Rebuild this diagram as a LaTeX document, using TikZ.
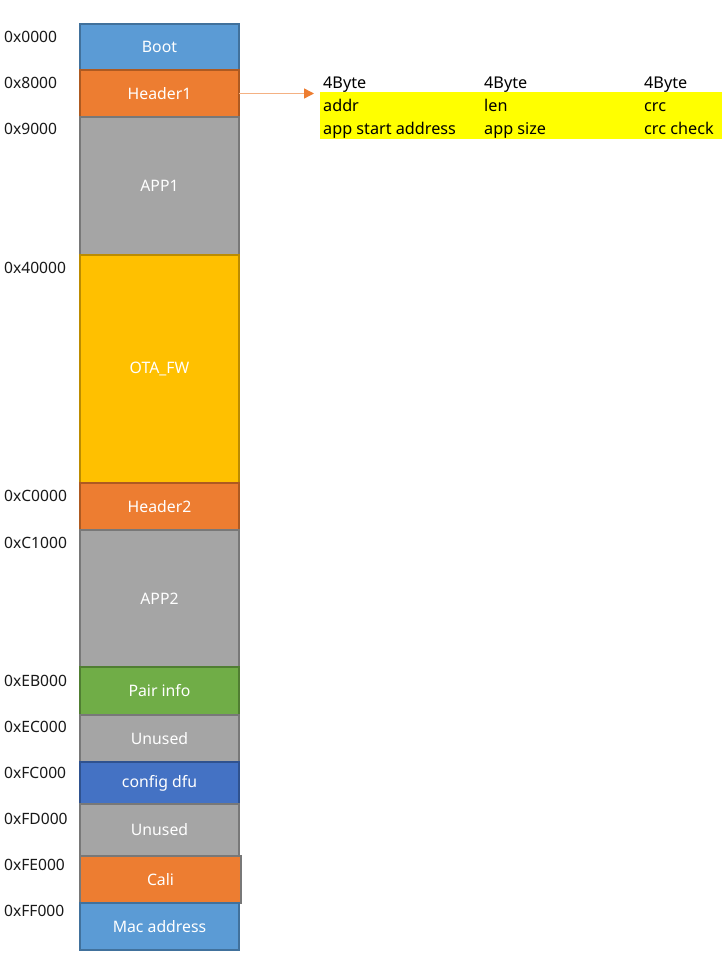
\documentclass[tikz,border=0pt]{standalone}
\usepackage{fontspec}
\setmainfont{Noto Sans}
\usetikzlibrary{arrows.meta}
\definecolor{bootc}{HTML}{5B9BD5}\definecolor{bootd}{HTML}{41719C}
\definecolor{hdrc}{HTML}{ED7D31}\definecolor{hdrd}{HTML}{AE5A21}
\definecolor{grayc}{HTML}{A5A5A5}\definecolor{grayd}{HTML}{787878}
\definecolor{otac}{HTML}{FFC000}\definecolor{otad}{HTML}{BC8C00}
\definecolor{pairc}{HTML}{70AD47}\definecolor{paird}{HTML}{507E32}
\definecolor{cfgc}{HTML}{4472C4}\definecolor{cfgd}{HTML}{2F528F}
\definecolor{arrl}{HTML}{F4B183}
\definecolor{yel}{HTML}{FFFF00}
\begin{document}
\begin{tikzpicture}[x=1pt,y=-1pt,
  blk/.style={rectangle,anchor=north west,inner sep=0pt,outer sep=0pt,line width=1.6pt,
    minimum width=159pt,text=white,font=\fontsize{15.8}{17}\selectfont},
  addr/.style={anchor=west,inner sep=0pt,font=\fontsize{15.6}{17}\selectfont,text=black!90},
  cell/.style={anchor=west,inner sep=0pt,font=\fontsize{16.2}{18}\selectfont,text height=11pt,text depth=3pt,text=black}]
\useasboundingbox (0,0) rectangle (722,968);
\fill[white] (0,0) rectangle (722,968);
% blocks
\node[blk,fill=bootc,draw=bootd,minimum height=46pt] (boot) at (80,24) {Boot};
\node[blk,fill=hdrc,draw=hdrd,minimum height=47pt] (h1) at (80,70) {Header1};
\node[blk,fill=grayc,draw=grayd,minimum height=138pt] (app1) at (80,117) {APP1};
\node[blk,fill=otac,draw=otad,minimum height=228pt] (ota) at (80,255) {OTA\_FW};
\node[blk,fill=hdrc,draw=hdrd,minimum height=47pt] (h2) at (80,483) {Header2};
\node[blk,fill=grayc,draw=grayd,minimum height=137pt] (app2) at (80,530) {APP2};
\node[blk,fill=pairc,draw=paird,minimum height=48pt] (pair) at (80,667) {Pair info};
\node[blk,fill=grayc,draw=grayd,minimum height=47pt] (un1) at (80,715) {Unused};
\node[blk,fill=cfgc,draw=cfgd,minimum height=42pt] (cfg) at (80,762) {config dfu};
\node[blk,fill=grayc,draw=grayd,minimum height=52pt] (un2) at (80,804) {Unused};
\node[blk,fill=hdrc,draw=grayd,minimum height=47pt,minimum width=161pt] (cali) at (80,856) {Cali};
\node[blk,fill=bootc,draw=bootd,minimum height=47pt] (mac) at (80,903) {Mac address};
% address labels
\node[addr] (a0) at (4,37) {0x0000};
\node[addr] (a1) at (4,83) {0x8000};
\node[addr] (a2) at (4,129) {0x9000};
\node[addr] (a3) at (4,268) {0x40000};
\node[addr] (a4) at (4,496) {0xC0000};
\node[addr] (a5) at (4,543) {0xC1000};
\node[addr] (a6) at (4,681) {0xEB000};
\node[addr] (a7) at (4,727) {0xEC000};
\node[addr] (a8) at (4,773) {0xFC000};
\node[addr] (a9) at (4,819) {0xFD000};
\node[addr] (a10) at (4,865) {0xFE000};
\node[addr] (a11) at (4,911) {0xFF000};
% table
\fill[yel] (320,92) rectangle (722,139);
\node[cell] (t11) at (323,85) {4Byte};
\node[cell] (t12) at (484,85) {4Byte};
\node[cell] (t13) at (644,85) {4Byte};
\node[cell] (t21) at (323,108) {addr};
\node[cell] (t22) at (484,108) {len};
\node[cell] (t23) at (644,108) {crc};
\node[cell] (t31) at (323,131) {app start address};
\node[cell] (t32) at (484,131) {app size};
\node[cell] (t33) at (644,131) {crc check};
% arrow
\coordinate (tip) at (314,93.5);
\draw[arrl,line width=1.4pt,-{Triangle[length=10pt,width=10pt,color=hdrc]}] (h1.east) -- (tip);
\end{tikzpicture}
\end{document}
